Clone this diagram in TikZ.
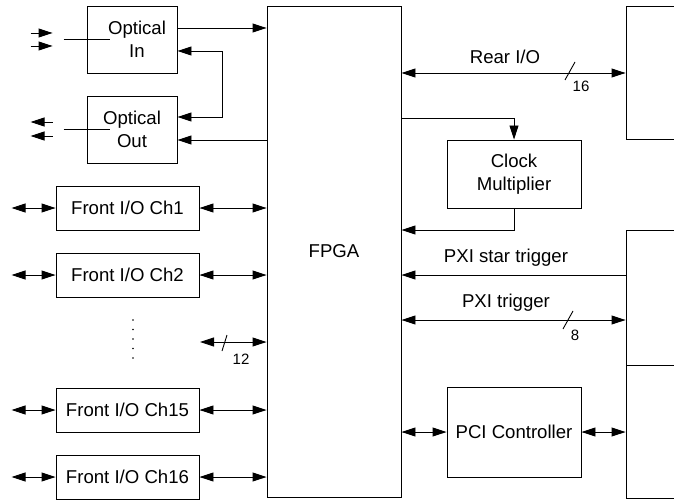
\documentclass[tikz,border=0pt]{standalone}
\usepackage{fontspec}
\setmainfont{Liberation Sans}
\usetikzlibrary{arrows.meta}
\begin{document}
\begin{tikzpicture}[x=1pt,y=-1pt,line width=0.9pt,>={Triangle[length=14pt,width=9pt]},
  box/.style={draw,inner sep=0pt,align=center,font=\fontsize{18.6}{23}\selectfont},
  lbl/.style={font=\fontsize{18.6}{23}\selectfont},
  num/.style={font=\fontsize{15}{18}\selectfont}]
\useasboundingbox (0,0) rectangle (674,500);
\clip (0,0) rectangle (674,500);
\node[box,minimum width=90pt,minimum height=67pt] (oin) at (132,39.5) {\hspace*{10pt}Optical\\\hspace*{10pt}In};
\node[box,minimum width=90pt,minimum height=67pt] (oout) at (132,129.5) {Optical\\Out};
\node[box,minimum width=134pt,minimum height=491pt] (fpga) at (334,251.5) {FPGA};
\node[box,minimum width=134pt,minimum height=68pt] (clk) at (514,174) {Clock\\Multiplier};
\node[box,minimum width=134pt,minimum height=90pt] (pci) at (514,432) {PCI Controller};
\node[box,minimum width=100pt,minimum height=133pt] (rear) at (676,72.5) {};
\node[box,minimum width=100pt,minimum height=135pt] (pxi) at (676,297.5) {};
\node[box,minimum width=100pt,minimum height=133pt] (bus) at (676,431.5) {};
\draw ([xshift=-23pt]oin.west) -- ([xshift=23pt]oin.west);
\draw ([xshift=-23pt]oout.west) -- ([xshift=23pt]oout.west);
\draw[->] ([xshift=-56pt,yshift=6.5pt]oin.west) -- ++(22,0);
\draw[->] ([xshift=-56pt,yshift=-6.5pt]oin.west) -- ++(22,0);
\draw[->] ([xshift=-34pt,yshift=7.5pt]oout.west) -- ++(-22,0);
\draw[->] ([xshift=-34pt,yshift=-6.5pt]oout.west) -- ++(-22,0);
\draw[->] (oin.east |- 0,28) -- (fpga.west |- 0,28);
\draw[->] (fpga.west |- 0,140) -- (oout.east |- 0,140);
\draw[<->] (oout.east |- 0,117) -- (222,117) -- (222,51) -- (oin.east |- 0,51);
\foreach \n/\y in {1/208,2/275,15/410,16/477}{
\node[box,minimum width=143pt,minimum height=44pt] (f\n) at (127.5,\y) {Front I/O Ch\n};
\draw[<->] (f\n.west) -- ++(-44,0);
\draw[<->] (f\n.east) -- (f\n.east -| fpga.west);
}
\foreach \y in {320,329.5,...,358}
\fill (133,\y) circle (0.9pt);
\coordinate (b12) at (200,342);
\draw[<->] (b12) -- (b12 -| fpga.west);
\draw (222,351) -- (227,335);
\node[num] (n12) at (241,359) {12};
\draw[<->] (fpga.east |- 0,73) -- (rear.west |- 0,73);
\node[lbl] (lrear) at (505,57) {Rear I/O};
\draw (565,80) -- (575,62);
\node[num] (n16) at (581,86) {16};
\draw[->] (fpga.east |- 0,118) -| (clk.north);
\draw[->] (clk.south) |- (fpga.east |- 0,230);
\draw[->] (pxi.west |- 0,275) -- (fpga.east |- 0,275);
\node[lbl] (lstar) at (506,258) {PXI star trigger};
\draw[<->] (fpga.east |- 0,320) -- (pxi.west |- 0,320);
\node[lbl] (ltrig) at (506,303) {PXI trigger};
\draw (563,329) -- (573,311);
\node[num] (n8) at (575,335) {8};
\draw[<->] (fpga.east |- pci.west) -- (pci.west);
\draw[<->] (pci.east) -- (pci.east -| bus.west);
\end{tikzpicture}
\end{document}
